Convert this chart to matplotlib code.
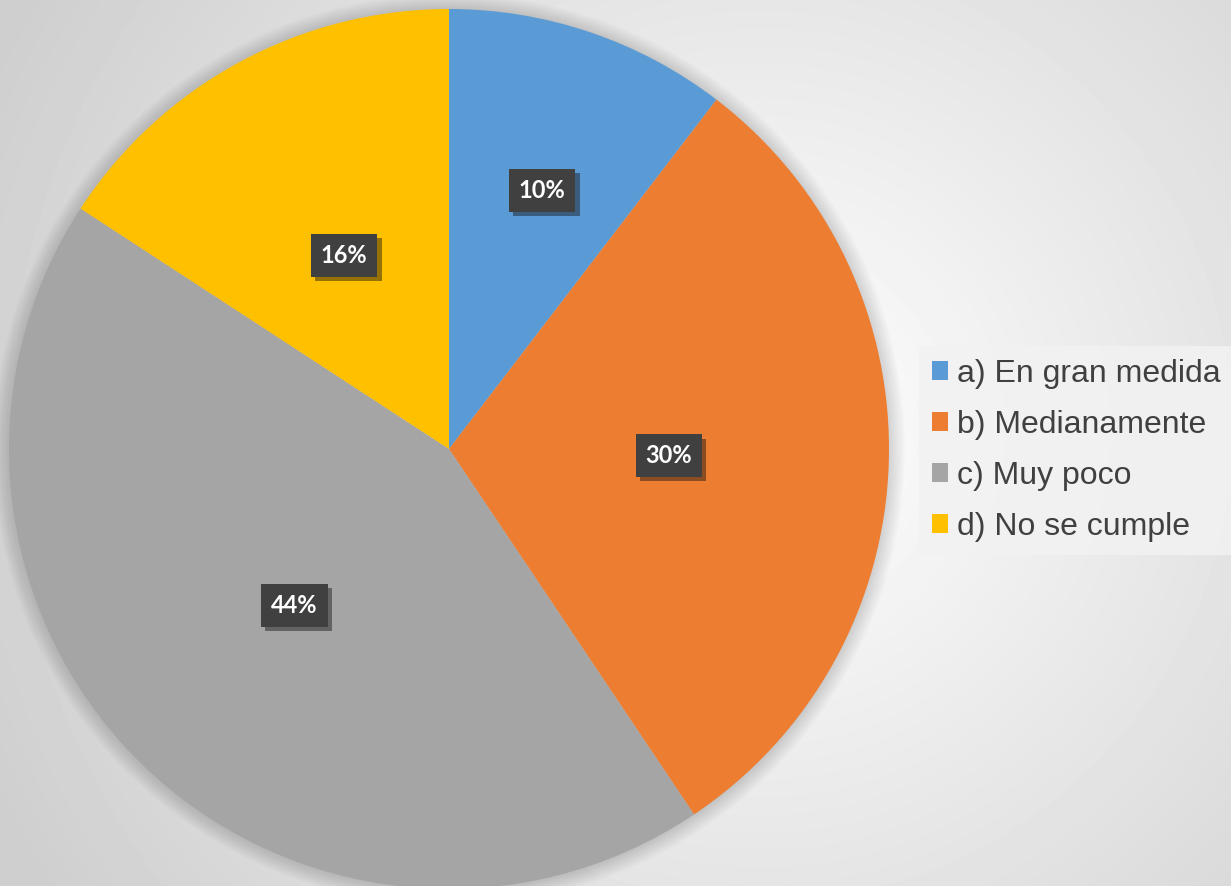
import numpy as np
import matplotlib.pyplot as plt
import matplotlib.patheffects as pe
from matplotlib.patches import Circle

# datos del grafico
categorias = ["a) En gran medida", "b) Medianamente", "c) Muy poco", "d) No se cumple"]
valores = [10.4, 30.2, 43.6, 15.8]
colores = ["#5B9BD5", "#ED7D31", "#A5A5A5", "#FFC000"]

fig = plt.figure(figsize=(12.31, 8.86), dpi=100)

# fondo con degradado radial
bg = fig.add_axes([0, 0, 1, 1])
yy, xx = np.mgrid[0:886, 0:1231]
d = np.hypot(xx - 760, yy - 430)
v = 1.0 - 0.19 * np.clip(d / 850, 0, 1)
bg.imshow(v, cmap="gray", vmin=0, vmax=1, aspect="auto", interpolation="bilinear")
bg.axis("off")

# area del pastel
ax = fig.add_axes([9 / 1231, -3 / 886, 880 / 1231, 880 / 886])
ax.set_xlim(-1, 1)
ax.set_ylim(-1, 1)
ax.set_aspect("equal")
ax.axis("off")

# sombra suave alrededor del pastel
for k in range(10):
    ax.add_patch(Circle((0.0, -0.002), 1.0 + 0.004 * k, color="black",
                        alpha=0.014, lw=0, zorder=0, clip_on=False))

wedges, textos, pcts = ax.pie(valores, colors=colores, startangle=90, counterclock=False,
                              radius=1.0, autopct="%.0f%%", pctdistance=0.5,
                              wedgeprops=dict(linewidth=0), frame=False)
ax.set_xlim(-1, 1)
ax.set_ylim(-1, 1)

# la etiqueta del 10% va un poco mas afuera
x0, y0 = pcts[0].get_position()
pcts[0].set_position((x0 * 1.32, y0 * 1.24))

for t in pcts:
    t.set_color("white")
    t.set_fontsize(17)
    t.set_fontweight("bold")
    t.set_fontfamily("Lato")
    t.set_bbox(dict(boxstyle="square,pad=0.42", facecolor="#404040", edgecolor="none"))
    t.get_bbox_patch().set_path_effects([pe.SimplePatchShadow(offset=(3, -3), alpha=0.45),
                                         pe.Normal()])

leg = fig.legend(wedges, categorias, loc="upper left",
                 bbox_to_anchor=(919 / 1231, 1 - 346 / 886),
                 prop={"family": "Liberation Sans", "size": 23},
                 frameon=True, fancybox=False, handlelength=0.52, handleheight=0.52,
                 handletextpad=0.28, labelspacing=0.66, borderpad=0.4,
                 borderaxespad=0)
leg.get_frame().set_facecolor("#f2f2f2")
leg.get_frame().set_edgecolor("none")
leg.get_frame().set_alpha(0.85)
for t in leg.get_texts():
    t.set_color("#404040")

fig.savefig("out.png", dpi=100)
